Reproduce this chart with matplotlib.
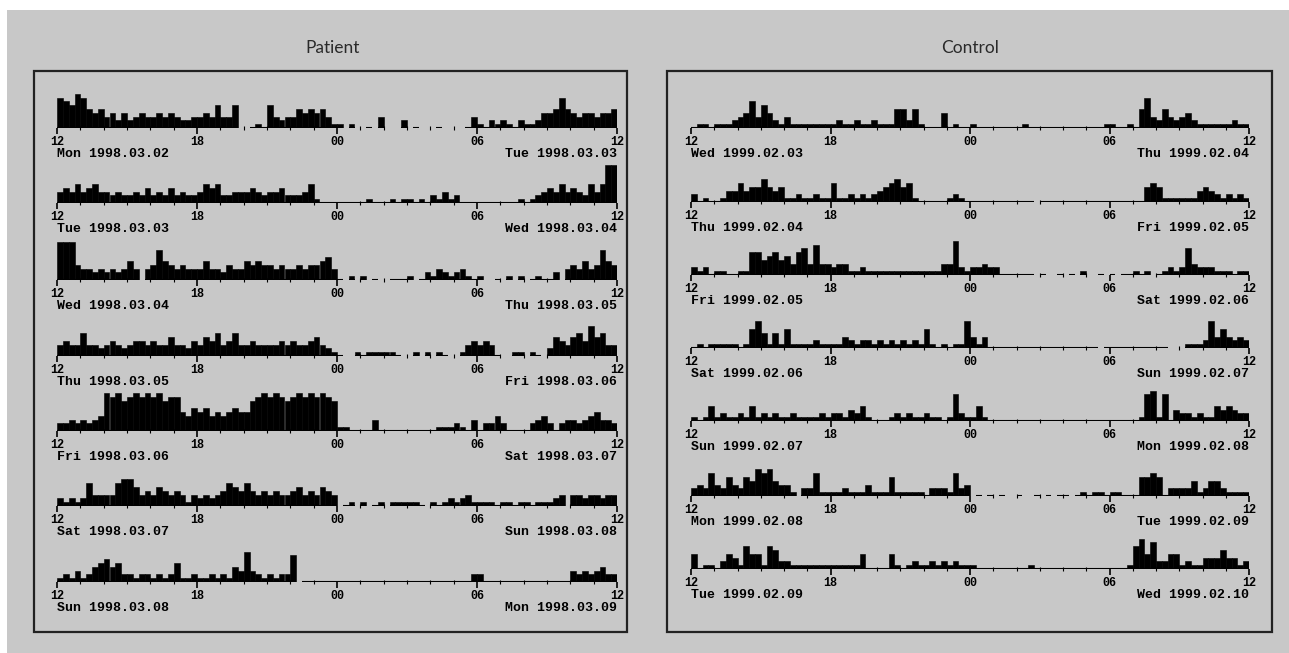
import numpy as np
import matplotlib
matplotlib.use("Agg")
import matplotlib.pyplot as plt
from matplotlib.patches import Rectangle

N = None  # missing data (no baseline drawn)

# ---- activity counts, 15-minute bins from 12:00 to 12:00 (relative scale 0-10) ----
# Patient
patient_mon = [8,7,6,9, 8,5,4,5, 3,4,2,4, 2,3,4,3, 3,4,3,4, 3,2,2,3, 3,4,3,6, 3,3,6,N,
               N,0,1,0, 6,3,2,3, 3,5,4,5, 4,5,3,1, 1,N,1,N, N,0,N,3, N,N,N,2, N,0,N,N,
               N,0,N,N, N,N,0,3, 1,0,2,1, 2,1,0,2, 1,1,2,4, 4,5,8,5, 4,3,4,4, 3,4,4,5]
patient_tue = [3,4,3,5, 3,4,5,3, 3,2,3,2, 2,3,2,4, 2,3,2,4, 2,3,2,2, 3,5,4,5, 2,2,3,3,
               3,4,3,2, 3,3,4,2, 2,2,3,5, 1,0,0,0, 0,0,0,0, 0,1,0,0, 0,1,0,1, 1,0,1,0,
               2,1,3,1, 2,0,0,0, 0,0,0,0, 0,0,0,1, 0,1,2,3, 4,3,5,3, 4,3,2,5, 3,5,10,10]
patient_wed = [10,10,10,4, 3,3,2,3, 2,3,2,3, 5,3,N,3, 4,8,5,4, 3,4,3,3, 3,5,3,3, 2,4,3,3,
               5,4,5,4, 4,3,4,3, 3,4,3,4, 4,5,6,3, 0,N,1,N, 1,N,0,N, N,0,0,0, 1,N,0,2,
               1,3,2,1, 2,3,1,0, 1,N,N,0, N,1,N,1, N,0,1,0, 0,2,N,3, 4,3,5,3, 4,8,5,4]
patient_thu = [3,4,3,3, 6,3,3,2, 3,4,3,2, 3,4,4,3, 4,3,3,5, 3,3,2,4, 3,5,4,6, 3,4,6,3,
               3,4,3,3, 3,3,4,3, 4,3,3,4, 5,3,2,1, 0,N,N,1, 0,1,1,1, 1,1,0,N, N,1,N,1,
               N,1,0,N, N,1,3,4, 3,4,3,0, N,N,1,1, N,1,0,N, 2,5,4,3, 5,6,4,8, 5,6,3,3]
patient_fri = [2,2,3,2, 3,2,3,4, 10,9,10,8, 9,10,9,10, 9,10,8,9, 9,5,4,6, 5,6,4,5, 4,5,6,5,
               5,8,9,10, 9,10,9,8, 9,10,9,10, 9,10,9,8, 1,1,0,0, 0,0,3,0, 0,0,0,0, 0,0,0,0,
               0,1,1,1, 2,1,0,3, 0,2,2,4, 2,0,0,0, 0,2,3,4, 2,0,2,3, 3,2,3,4, 5,3,3,2]
patient_sat = [2,1,2,1, 2,6,3,3, 3,3,6,7, 7,5,3,4, 3,5,4,3, 4,3,1,3, 2,3,2,3, 4,6,5,4,
               6,4,3,4, 3,4,3,3, 4,5,3,4, 3,5,4,3, N,0,1,N, 1,N,0,1, N,1,1,1, 1,1,0,N,
               1,0,1,2, 1,2,3,1, 1,1,1,0, 1,1,0,1, 1,0,1,1, 1,2,3,N, 3,3,2,3, 3,2,3,3]
patient_sun = [1,2,1,3, 1,2,4,5, 6,4,5,2, 2,1,2,2, 1,2,1,2, 5,1,1,2, 1,1,2,1, 2,1,4,3,
               8,3,2,1, 2,1,2,2, 7,N,0,0, 0,0,0,0, 0,0,0,0, 0,0,0,0, 0,0,0,0, 0,0,0,0,
               0,0,0,0, 0,0,0,2, 2,0,0,0, 0,0,0,0, 0,0,0,0, 0,0,0,0, 3,2,3,2, 3,4,2,2]

# Control
control_wed = [0,1,1,0, 1,1,1,2, 3,4,7,3, 6,4,2,1, 3,1,1,1, 1,1,1,1, 1,2,1,1, 2,1,1,2,
               1,1,1,5, 5,2,5,1, 0,0,0,4, 0,1,0,0, 1,0,0,0, 0,0,0,0, 0,1,0,0, 0,0,0,0,
               0,0,0,0, 0,0,0,1, 1,0,0,1, 0,5,8,3, 2,5,3,2, 3,4,2,1, 1,1,1,1, 1,2,1,1]
control_thu = [2,0,1,0, 0,1,3,3, 5,3,4,4, 6,4,3,4, 1,1,2,1, 1,2,1,1, 5,1,1,2, 1,2,1,2,
               3,4,5,6, 4,5,1,0, 0,0,0,0, 1,2,1,0, 0,0,0,0, 0,0,0,0, 0,0,0,N, 0,0,0,0,
               0,0,0,0, 0,0,0,0, 0,0,0,0, 0,0,4,5, 4,1,1,1, 1,1,1,3, 4,3,2,1, 2,1,2,1]
control_fri = [2,1,2,0, 1,1,0,0, 1,1,6,6, 4,5,6,4, 5,3,6,7, 3,8,3,3, 2,3,3,1, 1,2,1,1,
               1,1,1,1, 1,1,1,1, 1,1,1,3, 3,9,2,1, 2,2,3,2, 2,0,0,0, 0,0,0,N, 0,N,N,0,
               N,0,N,1, N,N,0,N, 0,N,0,0, 1,0,1,N, 0,1,2,1, 2,7,3,2, 2,2,1,1, 1,0,1,1]
control_sat = [0,1,0,1, 1,1,1,1, 0,1,5,7, 4,1,4,1, 5,1,1,1, 1,2,1,1, 1,1,3,2, 1,2,2,1,
               2,1,2,1, 2,1,2,1, 5,1,0,1, 0,1,1,7, 3,1,3,0, 0,0,0,0, 0,0,0,0, 0,0,0,0,
               0,0,0,0, 0,0,N,0, 0,0,0,0, 0,0,0,0, 0,0,N,N, N,1,1,1, 2,7,3,5, 3,2,3,2]
control_sun = [1,0,1,4, 1,2,1,1, 2,1,4,1, 2,1,2,1, 1,2,1,1, 1,1,2,1, 2,2,1,3, 2,4,1,0,
               0,0,1,2, 1,2,1,1, 2,1,1,0, 1,7,2,1, 1,4,1,0, 0,0,0,0, 0,0,0,0, 0,0,0,0,
               0,0,0,0, 0,0,0,0, 0,0,0,0, 0,1,7,8, 1,7,0,3, 2,2,1,2, 1,1,4,3, 4,3,2,2]
control_mon = [2,3,2,6, 3,2,5,3, 2,5,4,7, 6,7,4,3, 3,1,N,2, 2,6,1,1, 1,1,2,1, 1,1,3,1,
               1,1,5,1, 1,1,1,1, 0,2,2,2, 1,6,2,3, N,0,N,0, N,0,N,N, 0,N,N,0, N,0,N,0,
               0,N,0,1, 0,1,1,0, 1,1,0,0, 0,5,5,6, 5,0,2,2, 2,2,4,1, 2,4,4,2, 1,1,1,1]
control_tue = [4,0,1,1, 0,2,4,3, 1,6,4,4, 1,6,5,2, 2,1,1,1, 1,1,1,1, 1,1,1,1, 1,4,0,0,
               0,0,4,1, 0,1,2,1, 1,2,1,2, 1,2,1,1, 1,0,0,0, 0,0,0,0, 0,0,1,0, 0,0,0,0,
               0,0,0,0, 0,0,0,0, 0,0,0,1, 6,8,4,7, 2,2,4,4, 1,2,1,1, 3,3,3,5, 3,3,1,2]

hour_labels = ["12", "18", "00", "06", "12"]

patient_rows = [patient_mon, patient_tue, patient_wed, patient_thu,
                patient_fri, patient_sat, patient_sun]
patient_start = ["Mon 1998.03.02", "Tue 1998.03.03", "Wed 1998.03.04", "Thu 1998.03.05",
                 "Fri 1998.03.06", "Sat 1998.03.07", "Sun 1998.03.08"]
patient_end = ["Tue 1998.03.03", "Wed 1998.03.04", "Thu 1998.03.05", "Fri 1998.03.06",
               "Sat 1998.03.07", "Sun 1998.03.08", "Mon 1998.03.09"]

control_rows = [control_wed, control_thu, control_fri, control_sat,
                control_sun, control_mon, control_tue]
control_start = ["Wed 1999.02.03", "Thu 1999.02.04", "Fri 1999.02.05", "Sat 1999.02.06",
                 "Sun 1999.02.07", "Mon 1999.02.08", "Tue 1999.02.09"]
control_end = ["Thu 1999.02.04", "Fri 1999.02.05", "Sat 1999.02.06", "Sun 1999.02.07",
               "Mon 1999.02.08", "Tue 1999.02.09", "Wed 1999.02.10"]

# ---- layout (pixels) ----
W, H = 1289, 653
BG = "#c8c8c8"
MONO = ["Liberation Mono", "DejaVu Sans Mono"]

fig = plt.figure(figsize=(W / 100, H / 100), dpi=100, facecolor="white")
fig.patches.append(Rectangle((7 / W, 0), 1, (H - 10) / H, transform=fig.transFigure,
                             facecolor=BG, edgecolor="none", zorder=-10))

# panel boxes
for (x0, x1) in [(34, 627), (667, 1272)]:
    fig.patches.append(Rectangle((x0 / W, (H - 632) / H), (x1 - x0) / W, (632 - 71) / H,
                                 transform=fig.transFigure, fill=False,
                                 edgecolor="#222222", linewidth=1.6, zorder=5))

fig.text(333 / W, 1 - 48 / H, "Patient", ha="center", va="center", fontsize=12.5,
         family=["Lato", "DejaVu Sans"], color="#2a2a2a")
fig.text(970 / W, 1 - 48 / H, "Control", ha="center", va="center", fontsize=12.5,
         family=["Lato", "DejaVu Sans"], color="#2a2a2a")


def draw_row(x0, width, base_y, vals, left_label, right_label):
    ax = fig.add_axes([x0 / W, (H - base_y) / H, width / W, 38 / H])
    v = np.array(vals, dtype=float)
    n = len(v)
    bw = 24.0 / n
    left = np.arange(n) * bw
    valid = ~np.isnan(v)
    ax.bar(left[valid], v[valid], width=bw, align="edge", color="black",
           edgecolor="black", linewidth=0.4)
    ax.hlines(np.zeros(valid.sum()), left[valid], left[valid] + bw,
              color="black", linewidth=1.5)
    ax.set_xlim(0, 24)
    ax.set_ylim(0, 10)
    ax.set_facecolor("none")
    for s in ax.spines.values():
        s.set_visible(False)
    ax.set_yticks([])
    ax.set_xticks([0, 6, 12, 18, 24])
    ax.set_xticklabels(hour_labels)
    ax.set_xticks(np.arange(25), minor=True)
    ax.tick_params(axis="x", which="major", length=4, width=1.2, direction="out",
                   pad=1.5, labelsize=8.5)
    ax.tick_params(axis="x", which="minor", length=2.5, width=0.8, direction="inout")
    for lab in ax.get_xticklabels():
        lab.set_fontfamily(MONO)
        lab.set_fontweight("bold")
    ax.annotate(left_label, xy=(0, 0), xycoords="axes fraction", xytext=(0, -26),
                textcoords="offset pixels", ha="left", va="center", fontsize=9.5,
                family=MONO, fontweight="bold")
    ax.annotate(right_label, xy=(1, 0), xycoords="axes fraction", xytext=(0, -26),
                textcoords="offset pixels", ha="right", va="center", fontsize=9.5,
                family=MONO, fontweight="bold")


patient_base = [128, 203, 280, 356, 431, 506, 582]
control_base = [128, 202, 275, 348, 421, 496, 569]

for vals, b, l, r in zip(patient_rows, patient_base, patient_start, patient_end):
    draw_row(57, 560, b, vals, l, r)
for vals, b, l, r in zip(control_rows, control_base, control_start, control_end):
    draw_row(691, 558, b, vals, l, r)

fig.savefig("out.png", dpi=100, facecolor=fig.get_facecolor())
